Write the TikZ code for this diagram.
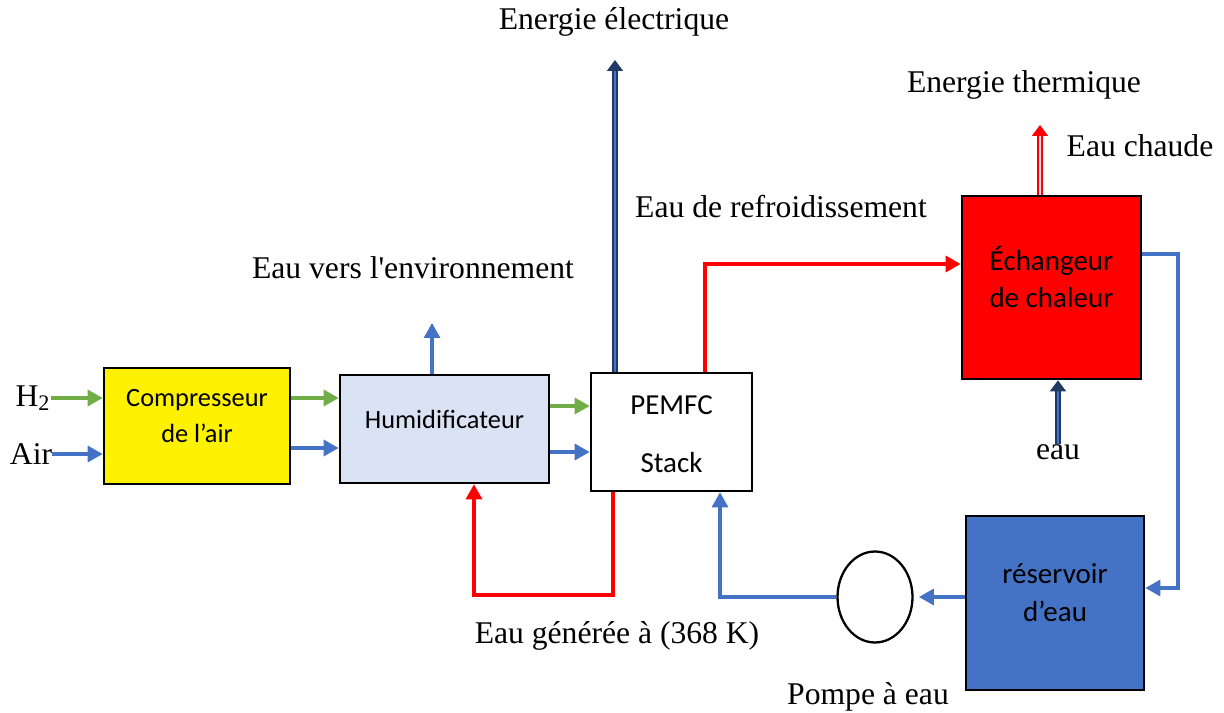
\documentclass[tikz,border=0pt]{standalone}
\usepackage{fontspec}
\setmainfont{Liberation Serif}[Ligatures=TeXOff]
\newfontfamily\boxfont{Carlito}
\usetikzlibrary{shapes.geometric, arrows.meta, positioning}
\definecolor{gvert}{HTML}{70AD47}
\definecolor{gbleu}{HTML}{4472C4}
\definecolor{gmarine}{HTML}{203864}
\definecolor{gclair}{HTML}{DAE3F3}

\begin{document}
\begin{tikzpicture}[
  x=0.02cm, y=-0.02cm,
  font=\fontsize{18}{21}\selectfont,
  every node/.style={align=center},
  blk/.style={rectangle, draw, line width=1.5pt, inner sep=0pt},
  blktxt/.style={font=\boxfont\fontsize{15}{20}\selectfont, inner sep=0pt},
  blkgrand/.style={font=\boxfont\fontsize{16.5}{21.5}\selectfont, inner sep=0pt},
  lbl/.style={inner sep=0pt},
  fl/.style={line width=1.8pt, -{Triangle[length=0.3cm,width=0.32cm]}},
  dbl/.style 2 args={draw=#1, double=#2, double distance=1.4pt, line width=0.9pt, -{Triangle[length=2.2mm,width=3.2mm]}}
]
  \useasboundingbox (0,0) rectangle (1224,713);

  % blocs
  \node[blk, fill=yellow, minimum width=3.72cm, minimum height=2.32cm] (comp) at (197,426) {};
  \node[blktxt] (compTxt) at (197,416) {Compresseur\\de l’air};
  \node[blk, fill=gclair, minimum width=4.18cm, minimum height=2.16cm] (hum) at (444.5,429) {};
  \node[blktxt] (humTxt) at (444.5,419) {Humidificateur};
  \node[blk, fill=white, minimum width=3.22cm, minimum height=2.36cm] (pem) at (671.5,432) {};
  \node[blkgrand] (pemTxt) at (671.5,434) {PEMFC\\[0.4cm]Stack};
  \node[blk, fill=red, minimum width=3.58cm, minimum height=3.66cm] (ech) at (1051.5,287.5) {};
  \node[blkgrand] (echTxt) at (1051.5,277) {\'Echangeur\\de chaleur};
  \node[blk, fill=gbleu, minimum width=3.56cm, minimum height=3.48cm] (res) at (1055,603) {};
  \node[blkgrand] (resTxt) at (1055,593) {r\'eservoir\\d’eau};
  \node[ellipse, draw, line width=1.3pt, minimum width=1.5cm, minimum height=1.82cm, inner sep=0pt] (pump) at (875,597) {};

  % textes
  \node[lbl] (h2) at (33,398) {H\textsubscript{2}};
  \node[lbl] (air) at (31,454) {Air};
  \node[lbl] (elecTxt) at (614,22) {Energie électrique};
  \node[lbl] (thermTxt) at (1024,85) {Energie thermique};
  \node[lbl] (chaudeTxt) at (1140,146) {Eau chaude};
  \node[lbl] (refrTxt) at (781,207) {Eau de refroidissement};
  \node[lbl] (envTxt) at (413,268) {Eau vers l'environnement};
  \node[lbl] (eauTxt) at (1058,452) {eau};
  \node[lbl] (genTxt) at (617,636) {Eau générée à (368 K)};
  \node[lbl] (pompeTxt) at (868,697) {Pompe à eau};

  \coordinate (envEnd) at (432,323);
  \coordinate (elecEnd) at (615,60);
  \coordinate (chaudeEnd) at (1040,125);

  % flux
  \draw[fl, gvert] (h2.east) -- (h2.east -| comp.west);
  \draw[fl, gbleu] (air.east) -- (air.east -| comp.west);
  \draw[fl, gvert] (comp.east |- 0,398) -- (hum.west |- 0,398);
  \draw[fl, gbleu] (comp.east |- 0,448) -- (hum.west |- 0,448);
  \draw[fl, gbleu] (envEnd |- hum.north) -- (envEnd);
  \draw[fl, gvert] (hum.east |- 0,406) -- (pem.west |- 0,406);
  \draw[fl, gbleu] (hum.east |- 0,452) -- (pem.west |- 0,452);
  \draw[dbl={gmarine}{gbleu}] (elecEnd |- pem.north) -- (elecEnd);
  \draw[fl, red] (pem.north -| 705,0) -- (705,264) -- (ech.west |- 0,264);
  \draw[fl, red] (pem.south -| 613,0) -- (613,595) -- (474,595) -- (hum.south -| 474,0);
  \draw[dbl={red}{gclair}] (chaudeEnd |- ech.north) -- (chaudeEnd);
  \draw[dbl={gmarine}{gbleu}] (eauTxt.north) -- (eauTxt.north |- ech.south);
  \draw[fl, gbleu] (ech.east |- 0,254) -- (1178,254) -- (1178,588) -- (res.east |- 0,588);
  \draw[fl, gbleu, shorten >=3pt] (res.west |- pump.east) -- (pump.east);
  \draw[fl, gbleu] (pump.west) -- (720,597) -- (pem.south -| 720,0);
\end{tikzpicture}
\end{document}
